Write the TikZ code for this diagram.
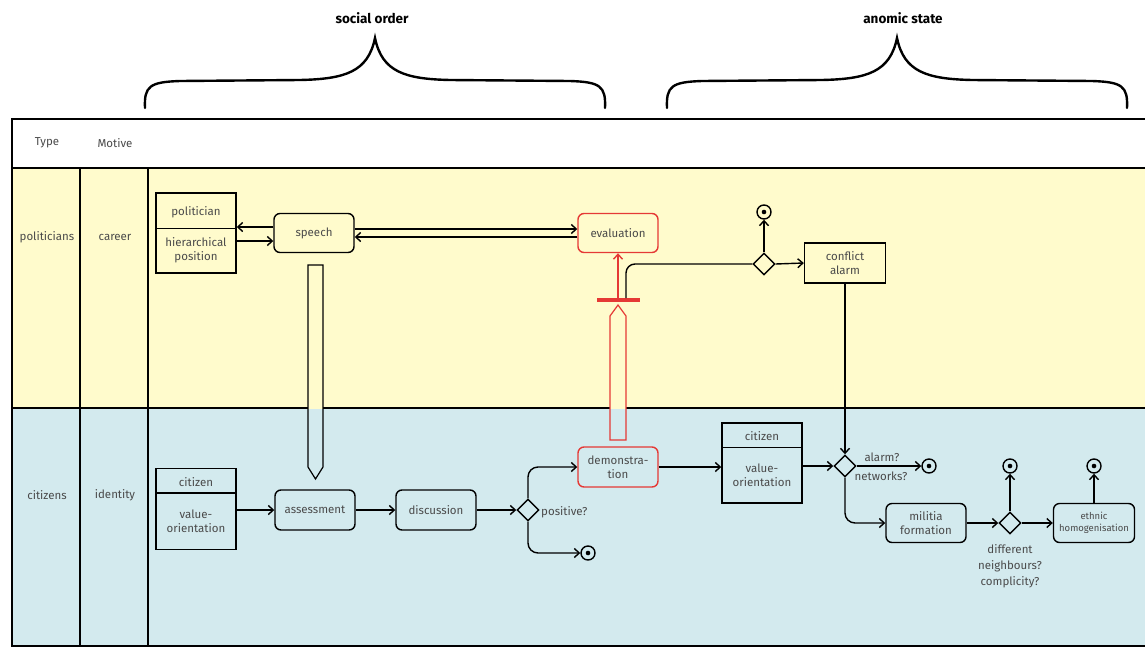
\documentclass[tikz,border=0pt]{standalone}
\usepackage{fontspec}
\setmainfont{Fira Sans}
\usetikzlibrary{arrows.meta,shapes.geometric,calc}
\definecolor{bandY}{HTML}{FFFBCC}
\definecolor{bandB}{HTML}{D3EAEE}
\definecolor{actred}{HTML}{E53935}
\definecolor{txt}{HTML}{4A4A4A}
\begin{document}
\begin{tikzpicture}[x=1pt,y=-1pt,
  every node/.style={font=\fontsize{11.5}{14.5}\selectfont, text=txt, align=center, inner sep=0pt},
  lbl/.style={font=\fontsize{11.5}{16}\selectfont},
  activity/.style={draw=black, line width=1.4pt, rounded corners=6pt, minimum width=80pt, minimum height=39pt},
  redact/.style={activity, draw=actred},
  objbox/.style={draw=black, line width=1.4pt, minimum width=80pt, minimum height=80pt},
  decision/.style={draw=black, line width=1.4pt, diamond, aspect=1, minimum size=22pt},
  final/.style={circle, draw=black, line width=1.4pt, minimum size=14pt,
    path picture={\fill[black] (path picture bounding box.center) circle (2.3pt);}},
  flow/.style={line width=1.4pt, -{Straight Barb[length=5pt,width=9pt]}},
  plain/.style={line width=1.4pt},
  brace/.style={line width=2.4pt, line cap=round},
  title/.style={font=\fontsize{13.5}{16}\selectfont\bfseries, text=black},
]
\useasboundingbox (0,0) rectangle (1145,648);
\fill[white] (0,0) rectangle (1145,648);
% bands
\fill[bandY] (12,168) rectangle (1160,408);
\fill[bandB] (12,408) rectangle (1160,646);
\draw[line width=2.6pt] (1160,119) -- (12,119) -- (12,646) -- (1160,646);
\draw[line width=1.6pt] (12,168) -- (1160,168);
\draw[line width=1.8pt] (12,408) -- (1160,408);
\draw[line width=1.6pt] (80,168) -- (80,646);
\draw[line width=1.6pt] (148,168) -- (148,646);
% braces
\node[title] (t1) at (372,18) {social order};
\node[title] (t2) at (903,18) {anomic state};
\draw[brace] (145,108) .. controls (144,86) and (150,82) .. (180,81) -- (300,80)
  .. controls (345,79) and (368,72) .. (375,38)
  .. controls (382,72) and (405,79) .. (450,80) -- (570,81)
  .. controls (600,82) and (606,86) .. (605,108);
\draw[brace] (667,108) .. controls (666,86) and (672,82) .. (702,81) -- (822,80)
  .. controls (867,79) and (890,72) .. (897,38)
  .. controls (904,72) and (927,79) .. (972,80) -- (1092,81)
  .. controls (1122,82) and (1128,86) .. (1127,108);
% header / lane labels
\node (hType) at (47,143) {Type};
\node (hMot) at (115,143) {Motive};
\node (lPol) at (47,237) {politicians};
\node (lCar) at (115,237) {career};
\node (lCit) at (47,495) {citizens};
\node (lIde) at (115,495) {identity};

% ---------- politicians lane ----------
\node[objbox] (pbox) at (196,233) {};
\draw[plain] ($(pbox.north west)+(0,36)$) -- ($(pbox.north east)+(0,36)$);
\node (pboxA) at (196,212) {politician};
\node (pboxB) at (196,250) {hierarchical\\position};
\node[activity] (speech) at (314,233) {speech};
\node[redact] (eval) at (618,233) {evaluation};
\draw[flow] ($(speech.west)+(0,-6)$) -- ($(pbox.east)+(0,-6)$);
\draw[flow] ($(pbox.east)+(0,8)$) -- ($(speech.west)+(0,8)$);
\draw[flow] ($(speech.east)+(0,-4)$) -- ($(eval.west)+(0,-4)$);
\draw[flow] ($(eval.west)+(0,4)$) -- ($(speech.east)+(0,4)$);
\node[fill=actred, minimum width=43pt, minimum height=3.5pt] (bar) at (618,300) {};
\draw[flow, draw=actred] (bar.north) -- (eval.south);
\node[decision] (D1) at (764,264) {};
\node[final] (F1) at (764,212) {};
\node[draw=black, line width=1.4pt, minimum width=81pt, minimum height=40pt] (CA) at (845,263) {conflict\\alarm};
\draw[plain, rounded corners=9pt] ($(bar.north)+(8,0)$) |- (D1.west);
\draw[flow] (D1.north) -- (F1.south);
\draw[flow] (D1.east) -- (CA.west);
% speech object flow
\fill[bandY] (308,265) rectangle (323,409);
\fill[bandB] (308,409) -- (323,409) -- (323,467) -- (315.5,479) -- (308,467) -- cycle;
\draw[line width=1.2pt] (308,265) -- (323,265) -- (323,467) -- (315.5,479) -- (308,467) -- cycle;
% demonstration object flow (red)
\fill[bandY] (610,409) -- (610,316) -- (618,305) -- (626,316) -- (626,409) -- cycle;
\fill[bandB] (610,409) rectangle (626,440);
\draw[line width=1.2pt, draw=actred] (610,440) -- (610,316) -- (618,305) -- (626,316) -- (626,440) -- cycle;

% ---------- citizens lane ----------
\node[objbox, minimum height=81pt] (cbox) at (196,509) {};
\draw[plain] ($(cbox.north west)+(0,25)$) -- ($(cbox.north east)+(0,25)$);
\node (cboxA) at (196,482) {citizen};
\node (cboxB) at (196,521) {value-\\orientation};
\node[activity, minimum height=40pt] (assess) at (315,510) {assessment};
\node[activity, minimum height=40pt] (disc) at (436,510) {discussion};
\node[decision] (D2) at (528,510) {};
\node[lbl, anchor=west] (pos) at (541,512) {positive?};
\node[final] (F2) at (588,553) {};
\node[redact, minimum height=40pt] (demo) at (618,467) {demonstra-\\tion};
\node[objbox] (cbox2) at (762,463) {};
\draw[plain] ($(cbox2.north west)+(0,25)$) -- ($(cbox2.north east)+(0,25)$);
\node (cbox2A) at (762,436) {citizen};
\node (cbox2B) at (762,475) {value-\\orientation};
\node[decision] (D3) at (845,466) {};
\node[final] (F3) at (929,466) {};
\node (al) at (882,457) {alarm?};
\node (nw) at (881,476) {networks?};
\node[activity] (mil) at (926,523) {militia\\formation};
\node[decision] (D4) at (1010,523) {};
\node[final] (F4) at (1010,466) {};
\node[lbl] (dn) at (1010,566) {different\\neighbours?\\complicity?};
\node[activity, minimum width=81pt, font=\fontsize{9.5}{12}\selectfont] (eth) at (1094,523) {ethnic\\homogenisation};
\node[final] (F5) at (1094,466) {};

\draw[flow] (cbox.east |- assess.west) -- (assess.west);
\draw[flow] (assess) -- (disc);
\draw[flow] (disc) -- (D2);
\draw[flow, rounded corners=10pt] (D2.north) |- (demo.west);
\draw[flow, rounded corners=10pt] (D2.south) |- (F2.west);
\draw[flow] (demo.east) -- (cbox2.west |- demo.east);
\draw[flow] (cbox2.east |- D3.west) -- (D3.west);
\draw[flow] (CA.south) -- (D3.north);
\draw[flow] (D3.east) -- (F3.west);
\draw[flow, rounded corners=10pt] (D3.south) |- (mil.west);
\draw[flow] (mil) -- (D4);
\draw[flow] (D4.north) -- (F4.south);
\draw[flow] (D4) -- (eth);
\draw[flow] (eth.north) -- (F5.south);
\end{tikzpicture}
\end{document}
